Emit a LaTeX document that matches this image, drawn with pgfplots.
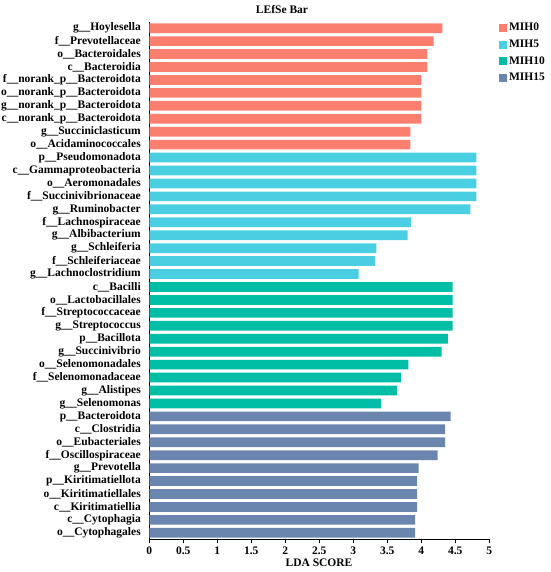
\documentclass[border=0pt]{standalone}
\usepackage{pgfplots}
\pgfplotsset{compat=1.18}
\usepackage{fontspec}
\setmainfont{Liberation Serif}
\definecolor{cA}{RGB}{250,127,111}
\definecolor{cB}{RGB}{74,207,226}
\definecolor{cC}{RGB}{0,190,166}
\definecolor{cD}{RGB}{106,134,174}
\newcommand{\fs}{\bfseries\fontsize{11.5}{12}\selectfont}
\begin{document}
\begin{tikzpicture}[x=1pt,y=1pt]
\useasboundingbox (0,0) rectangle (550,572);
\begin{axis}[
  at={(149.3pt,32.7pt)}, anchor=south west,
  scale only axis, width=340pt, height=517.6pt,
  xmin=0, xmax=5, ymin=-0.5, ymax=39.5, y dir=reverse,
  axis x line*=bottom, axis y line*=left,
  xtick={0,0.5,...,5},
  xticklabels={0,0.5,1,1.5,2,2.5,3,3.5,4,4.5,5},
  ytick={0,...,39},
  yticklabels={g\_\_Hoylesella,f\_\_Prevotellaceae,o\_\_Bacteroidales,c\_\_Bacteroidia,f\_\_norank\_p\_\_Bacteroidota,o\_\_norank\_p\_\_Bacteroidota,g\_\_norank\_p\_\_Bacteroidota,c\_\_norank\_p\_\_Bacteroidota,g\_\_Succiniclasticum,o\_\_Acidaminococcales,p\_\_Pseudomonadota,c\_\_Gammaproteobacteria,o\_\_Aeromonadales,f\_\_Succinivibrionaceae,g\_\_Ruminobacter,f\_\_Lachnospiraceae,g\_\_Albibacterium,g\_\_Schleiferia,f\_\_Schleiferiaceae,g\_\_Lachnoclostridium,c\_\_Bacilli,o\_\_Lactobacillales,f\_\_Streptococcaceae,g\_\_Streptococcus,p\_\_Bacillota,g\_\_Succinivibrio,o\_\_Selenomonadales,f\_\_Selenomonadaceae,g\_\_Alistipes,g\_\_Selenomonas,p\_\_Bacteroidota,c\_\_Clostridia,o\_\_Eubacteriales,f\_\_Oscillospiraceae,g\_\_Prevotella,p\_\_Kiritimatiellota,o\_\_Kiritimatiellales,c\_\_Kiritimatiellia,c\_\_Cytophagia,o\_\_Cytophagales},
  y tick style={draw=none},
  yticklabel style={xshift=-1pt},
  x tick style={black, line width=0.6pt}, xtick align=outside, major tick length=4pt,
  axis line style={black, line width=0.6pt},
  tick label style={font=\fs},
  /pgf/number format/assume math mode=true,
  xbar, bar width=0.75, bar shift=0pt,
  legend style={at={(1.025,1.003)}, anchor=north west, draw=none, fill=none, font=\fs, row sep=3.5pt, inner sep=1pt},
  legend cell align=left,
  legend image code/.code={\fill[#1] (0pt,-4pt) rectangle (8pt,4pt);},
  clip=false,
]
\addplot[fill=cA, draw=none] coordinates {(4.31,0) (4.18,1) (4.09,2) (4.09,3) (4.00,4) (4.00,5) (4.00,6) (4.00,7) (3.84,8) (3.84,9)};
\addplot[fill=cB, draw=none] coordinates {(4.81,10) (4.81,11) (4.81,12) (4.81,13) (4.72,14) (3.85,15) (3.80,16) (3.34,17) (3.32,18) (3.08,19)};
\addplot[fill=cC, draw=none] coordinates {(4.46,20) (4.46,21) (4.46,22) (4.46,23) (4.39,24) (4.30,25) (3.81,26) (3.70,27) (3.64,28) (3.41,29)};
\addplot[fill=cD, draw=none] coordinates {(4.43,30) (4.35,31) (4.35,32) (4.24,33) (3.96,34) (3.94,35) (3.94,36) (3.94,37) (3.91,38) (3.91,39)};
\legend{MIH0,MIH5,MIH10,MIH15}
\end{axis}
\node[font=\fs] at (282,562) {LEfSe Bar};
\node[font=\fs] at (319,9) {LDA SCORE};
\end{tikzpicture}
\end{document}
